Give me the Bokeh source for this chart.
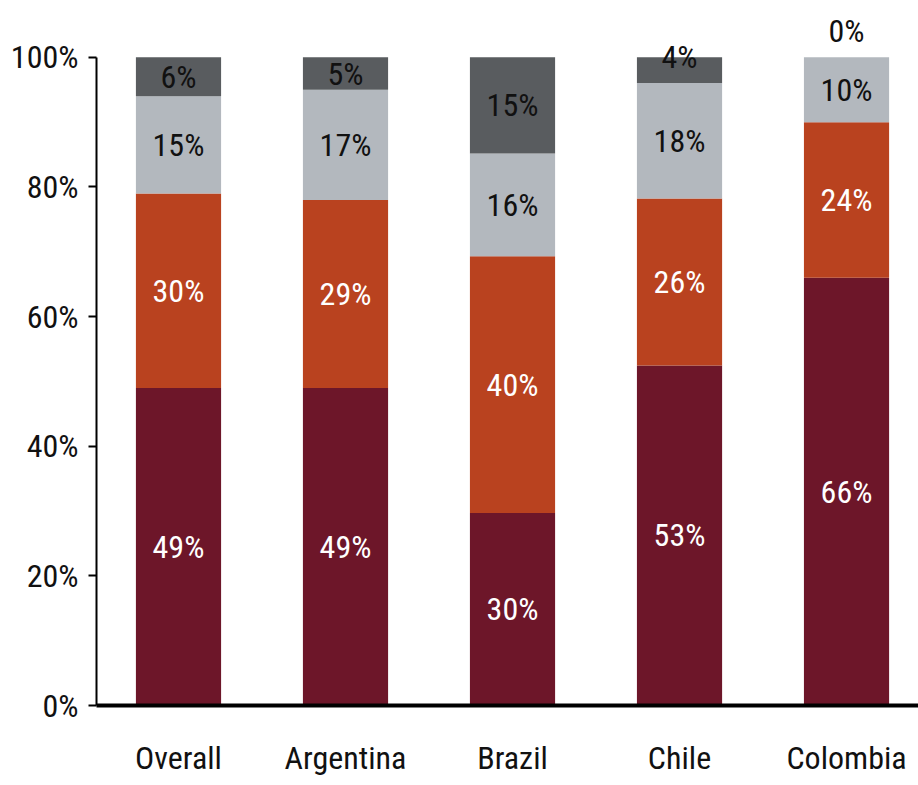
from bokeh.plotting import figure
from bokeh.models import Range1d, FixedTicker, ColumnDataSource, LinearAxis, BoxAnnotation
from bokeh.core.properties import value
from bokeh.embed import file_html
from bokeh.resources import INLINE

categories = ["Overall", "Argentina", "Brazil", "Chile", "Colombia"]
seg1 = [49, 49, 30, 53, 66]   # maroon
seg2 = [30, 29, 40, 26, 24]   # orange
seg3 = [15, 17, 16, 18, 10]   # light gray
seg4 = [6, 5, 15, 4, 0]       # dark gray
y_ticks = [0, 20, 40, 60, 80, 100]

colors = ["#6D1629", "#B9421F", "#B3B8BE", "#595C5F"]
label_colors = ["white", "white", "#111111", "#111111"]
FONT = "Liberation Sans Narrow, Roboto Condensed, Open Sans"

xs = list(range(len(categories)))
series = [seg1, seg2, seg3, seg4]

p = figure(width=918, height=785, output_backend="svg", toolbar_location=None,
           x_range=Range1d(-0.491, 4.431), y_range=Range1d(0, 108),
           min_border_left=96, min_border_right=0, min_border_top=5, min_border_bottom=80,
           x_axis_location=None, y_axis_location=None)
p.outline_line_color = None
p.xgrid.visible = False
p.ygrid.visible = False
p.background_fill_color = "white"

totals = [sum(s[i] for s in series) for i in xs]
bottoms = [0.0] * len(xs)
lx, ly, lt, lc = [], [], [], []
for k, s in enumerate(series):
    tops = [bottoms[i] + s[i] * 100.0 / totals[i] for i in xs]
    p.vbar(x=xs, bottom=list(bottoms), top=tops, width=0.51, fill_color=colors[k],
           line_color=None)
    for i in xs:
        v = s[i]
        mid = (bottoms[i] + tops[i]) / 2
        if v < 5:
            mid = 100 + (4 - v)
        lx.append(xs[i]); ly.append(mid); lt.append(f"{v}%"); lc.append(label_colors[k])
    bottoms = tops

src = ColumnDataSource(dict(x=lx, y=ly, t=lt, c=lc))
p.text(x="x", y="y", text="t", source=src, text_color="c", text_align="center",
       text_baseline="middle", text_font=value(FONT), text_font_size="32px")

# x axis
xaxis = LinearAxis(ticker=FixedTicker(ticks=xs),
                   major_label_overrides={i: c for i, c in enumerate(categories)})
xaxis.axis_line_width = 4
xaxis.axis_line_color = "black"
xaxis.major_tick_line_color = None
xaxis.minor_tick_line_color = None
xaxis.major_label_text_font = FONT
xaxis.major_label_text_font_size = "32px"
xaxis.major_label_text_color = "#111111"
xaxis.major_label_standoff = 27
p.add_layout(xaxis, "below")

# baseline extension to the left of the y axis
ext = BoxAnnotation(left=50, right=98, top=703, bottom=707,
                    left_units="screen", right_units="screen",
                    top_units="screen", bottom_units="screen",
                    fill_color="black", fill_alpha=1.0, line_color=None)
p.add_layout(ext)

# y axis
yaxis = LinearAxis(ticker=FixedTicker(ticks=y_ticks),
                   major_label_overrides={t: f"{t}%" for t in y_ticks})
yaxis.bounds = (0, 100)
yaxis.axis_line_width = 2
yaxis.axis_line_color = "black"
yaxis.major_tick_in = 0
yaxis.major_tick_out = 8
yaxis.major_tick_line_width = 2
yaxis.minor_tick_line_color = None
yaxis.major_label_text_font = FONT
yaxis.major_label_text_font_size = "32px"
yaxis.major_label_text_color = "#111111"
yaxis.major_label_standoff = 10
p.add_layout(yaxis, "left")

open("out.html", "w").write(file_html(p, INLINE))
